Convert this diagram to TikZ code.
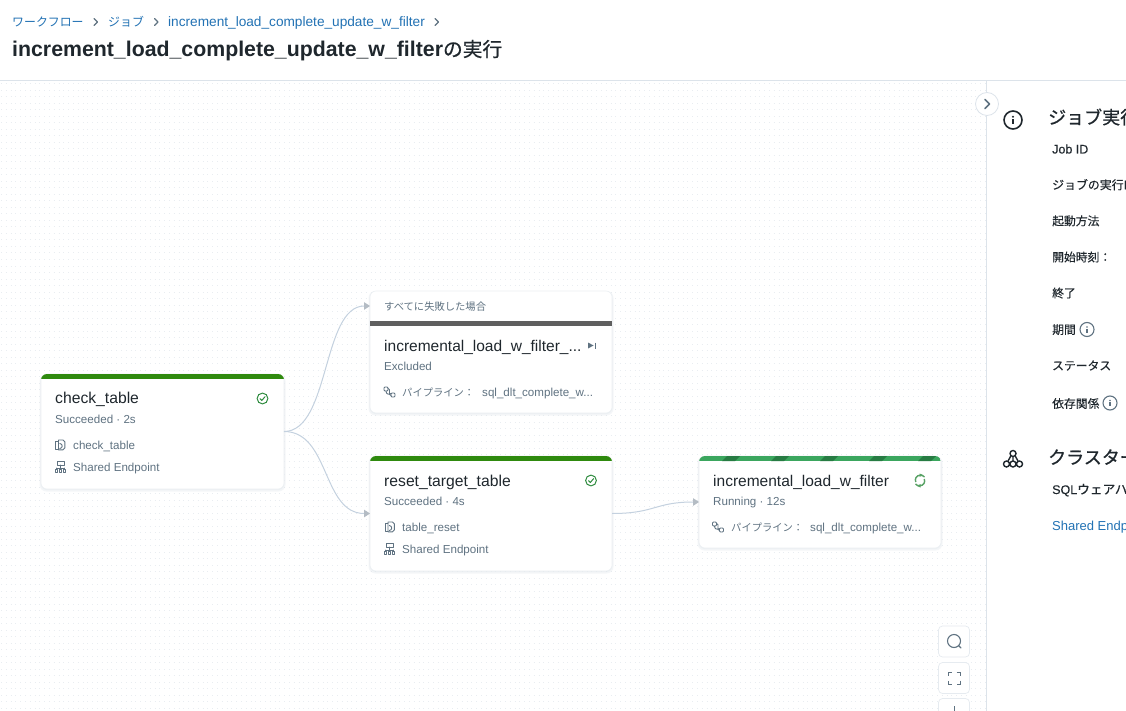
\documentclass[tikz,border=0pt]{standalone}
\usepackage{fontspec}
\setmainfont{Liberation Sans}
\newfontfamily\cjk{Noto Sans CJK JP}
\newfontfamily\cjkm[FakeBold=0.3]{Noto Sans CJK JP}
\newfontfamily\cjkh[FakeBold=0.7]{Noto Sans CJK JP}
\newfontfamily\latm[FakeBold=0.3]{Liberation Sans}
\newcommand{\jp}[2]{{\cjk\fontsize{#1}{15}\selectfont #2}}
\newcommand{\jm}[2]{{\cjkm\mdseries\fontsize{#1}{20}\selectfont #2}}
\newcommand{\jh}[2]{{\cjkh\mdseries\fontsize{#1}{20}\selectfont #2}}
\usetikzlibrary{arrows.meta,calc}
\definecolor{ink}{HTML}{1F272D}
\definecolor{subtle}{HTML}{5F7281}
\definecolor{linkc}{HTML}{2272B4}
\definecolor{edgec}{HTML}{C4D1DF}
\definecolor{tipc}{HTML}{B4BCC4}
\definecolor{okgreen}{HTML}{2E8B3E}
\definecolor{barok}{HTML}{2F8A0E}
\definecolor{barlight}{HTML}{3BA65E}
\definecolor{bardark}{HTML}{277C43}
\definecolor{bargray}{HTML}{5F5F5F}
\definecolor{rulec}{HTML}{DCE3EA}
\definecolor{dotc}{HTML}{E9EDF1}
\tikzset{
  card/.style={draw=rulec!55!white,line width=.6pt,fill=white,rounded corners=6pt,inner sep=0pt,outer sep=0pt},
  shadowc/.style={draw=none,fill=rulec,opacity=.3,rounded corners=7pt},
  flow/.style={draw=edgec,line width=1pt,-{Triangle[length=6pt,width=7.5pt,fill=tipc,color=tipc]}},
  title/.style={anchor=base west,inner sep=0pt,font=\fontsize{15.7}{18}\selectfont,text=ink},
  sub/.style={anchor=base west,inner sep=0pt,font=\fontsize{11.6}{13}\selectfont,text=subtle},
  crumb/.style={anchor=base west,inner sep=0pt,font=\fontsize{13.66}{15}\selectfont,text=linkc},
  lab/.style={anchor=base west,inner sep=0pt,font=\fontsize{12.5}{14}\selectfont,text=ink},
  head/.style={anchor=base west,inner sep=0pt,text=ink},
  ico/.style={draw=subtle,line width=.9pt,line cap=round,line join=round},
  chev/.style={draw=#1,line width=1.1pt,line cap=round,line join=round},
  ctrl/.style={draw=rulec!70!white,fill=white,line width=.7pt,rounded corners=4pt},
}
% icons, placed by their centre
\newcommand{\okicon}[2]{\begin{scope}[shift={(#1,#2)}]
  \draw[okgreen,line width=1pt] (0,0) circle[radius=5.4];
  \draw[okgreen,line width=1pt,line cap=round,line join=round] (-2.5,.2)--(-.7,2)--(2.6,-1.9);
\end{scope}}
\newcommand{\fileicon}[2]{\begin{scope}[shift={(#1,#2)}]
  \draw[ico] (-1.5,-5)--(3,-5)--(4.8,-3.3)--(4.8,3)--(3,4.8)--(-1.5,4.8)--cycle;
  \draw[ico] (-1.5,-3.5)--(-4.5,-3.5)--(-4.5,4.8)--(-1.5,4.8);
  \draw[ico] (-.2,3.6) .. controls (3,3) and (3,-1) .. (-.2,-1.5);
\end{scope}}
\newcommand{\epicon}[2]{\begin{scope}[shift={(#1,#2)}]
  \draw[ico] (-3.5,-5.2) rectangle (3.5,-2);
  \draw[ico] (0,-2)--(0,1) (-4,1)--(4,1) (-4,1)--(-4,2.5) (4,1)--(4,2.5);
  \draw[ico] (-5.4,2.5) rectangle (-2.8,5) (-1.3,2.5) rectangle (1.3,5) (2.8,2.5) rectangle (5.4,5);
\end{scope}}
\newcommand{\pipeicon}[2]{\begin{scope}[shift={(#1,#2)}]
  \draw[ico,rounded corners=1pt] (-5.5,-5) rectangle (-1.5,-1);
  \draw[ico,rounded corners=1pt] (1.5,1) rectangle (5.5,5);
  \draw[ico] (-1.5,-3.5) .. controls (2,-3.5) and (-2,3.5) .. (1.5,3.5);
  \draw[ico] (-3.5,-1) .. controls (-3.5,2) and (-1,3) .. (1.5,1.5);
\end{scope}}
\newcommand{\infoicon}[5]{\begin{scope}[shift={(#1,#2)}]
  \draw[#4,line width=#5pt] (0,0) circle[radius=#3];
  \fill[#4] (0,-.36*#3) circle[radius=.13*#3];
  \draw[#4,line width=#5pt] (0,-.08*#3)--(0,.48*#3);
\end{scope}}
\begin{document}
\begin{tikzpicture}[x=1pt,y=-1pt]
\useasboundingbox (0,0) rectangle (1126,711);
\fill[white] (0,0) rectangle (1126,711);
\begin{scope}
\clip (0,0) rectangle (1126,711);
% dotted canvas
\foreach \r in {0,...,96} {
  \draw[dotc,line width=1pt,dash pattern=on 1pt off 3.8pt] (1,84+6.5*\r)--(986,84+6.5*\r);
}
% page header
\node[crumb] (c1) at (12,27) {\jp{11.9}{ワークフロー}};
\node[crumb] (c2) at (108,27) {\jp{11.9}{ジョブ}};
\node[crumb] (c3) at (168,27) {increment\_load\_complete\_update\_w\_filter};
\draw[chev=subtle] (94,18.5)--(97.5,22)--(94,25.5);
\draw[chev=subtle] (154.5,18.5)--(158,22)--(154.5,25.5);
\draw[chev=subtle] (435,18.5)--(438.5,22)--(435,25.5);
\node[anchor=base west,inner sep=0pt,font=\fontsize{21.3}{24}\bfseries\selectfont,text=ink] (pagetitle) at (12,56.5) {increment\_load\_complete\_update\_w\_filter\jh{19.7}{の実行}};
\draw[rulec,line width=1pt] (0,80.5)--(1126,80.5);
% right panel
\fill[white] (987,81) rectangle (1126,711);
\draw[rulec,line width=1pt] (986.5,81)--(986.5,711);
\node[circle,draw=rulec,fill=white,line width=.8pt,minimum size=23pt,inner sep=0pt] (toggle) at (987,104) {};
\draw[chev=subtle,line width=1.5pt] (985,99.5)--(989.5,104)--(985,108.5);
\infoicon{1013}{120}{9}{ink}{1.6}
\node[head] (h1) at (1048,124) {\jh{18}{ジョブ実行}};
\node[lab] (l1) at (1052,153.5) {\latm Job ID};
\node[lab] (l2) at (1052,189.3) {\jm{11.9}{ジョブの実行ID}};
\node[lab] (l3) at (1052,225.3) {\jm{11.8}{起動方法}};
\node[lab] (l4) at (1052,261.5) {\jm{11.8}{開始時刻：}};
\node[lab] (l5) at (1052,297.5) {\jm{11.8}{終了}};
\node[lab] (l6) at (1052,334) {\jm{11.8}{期間}};
\infoicon{1087}{329.5}{7}{subtle}{1.1}
\node[lab] (l7) at (1052,370) {\jm{11.8}{ステータス}};
\node[lab] (l8) at (1052,408) {\jm{11.8}{依存関係}};
\infoicon{1110}{403}{7}{subtle}{1.1}
\begin{scope}[ink,line width=1.4pt]
  \draw (1013,453.5) circle[radius=3];
  \draw (1006.5,464) circle[radius=3] (1013,464) circle[radius=3] (1019.5,464) circle[radius=3];
  \draw (1013,456.5)--(1013,461) (1010.8,456)--(1008,461) (1015.2,456)--(1018,461);
\end{scope}
\node[head] (h2) at (1048,464) {\jh{18}{クラスター}};
\node[lab] (l9) at (1052,494) {\latm SQL\jm{12.7}{ウェアハウス}};
\node[anchor=base west,inner sep=0pt,font=\fontsize{13}{15}\selectfont,text=linkc] (l10) at (1052,530) {Shared Endpoint};
% canvas controls
\node[ctrl,minimum width=31pt,minimum height=31pt,inner sep=0pt] (z1) at (954,641.5) {};
\node[ctrl,minimum width=31pt,minimum height=31pt,inner sep=0pt] (z2) at (954,678) {};
\node[ctrl,minimum width=31pt,minimum height=31pt,inner sep=0pt] (z3) at (954,714) {};
\draw[subtle,line width=1.1pt,line cap=round] (954,641) circle[radius=6.5] (958.8,645.8)--(961,648);
\draw[subtle,line width=1pt] (948,675.5)--(948,672)--(951.5,672) (956.5,672)--(960,672)--(960,675.5) (960,680.5)--(960,684)--(956.5,684) (951.5,684)--(948,684)--(948,680.5);
\draw[subtle,line width=1pt] (954,706)--(954,711);
% cards
\foreach \a/\b/\c/\d in {41/374/284/489,370/291/612/413,370/456/612/571,699/456/941/548}{
  \fill[shadowc] (\a-1.5,\b) rectangle (\c+1.5,\d+2.5);
  \fill[shadowc] (\a-.5,\b+1) rectangle (\c+.5,\d+1.2);
}
\node[card,minimum width=243pt,minimum height=115pt] (check) at (162.5,431.5) {};
\node[card,minimum width=242pt,minimum height=122pt] (excl) at (491,352) {};
\node[card,minimum width=242pt,minimum height=115pt] (reset) at (491,513.5) {};
\node[card,minimum width=242pt,minimum height=92pt] (inc) at (820,502) {};
\coordinate (exclport) at (excl.north west |- 0,306);
% top bars
\begin{scope}
  \clip[rounded corners=6pt] (check.north west) rectangle ($(check.north east)+(0,20)$);
  \fill[barok] (check.north west) rectangle ($(check.north east)+(0,5)$);
\end{scope}
\begin{scope}
  \clip[rounded corners=6pt] (reset.north west) rectangle ($(reset.north east)+(0,20)$);
  \fill[barok] (reset.north west) rectangle ($(reset.north east)+(0,5)$);
\end{scope}
\begin{scope}
  \clip[rounded corners=6pt] (inc.north west) rectangle ($(inc.north east)+(0,20)$);
  \fill[barlight] (inc.north west) rectangle ($(inc.north east)+(0,5)$);
  \clip (inc.north west) rectangle ($(inc.north east)+(0,5)$);
  \foreach \k in {0,...,4}{
    \fill[bardark] (722+49*\k,461)--(735+49*\k,461)--(740+49*\k,456)--(727+49*\k,456)--cycle;
  }
\end{scope}
\fill[bargray] (excl.west |- 0,321) rectangle (excl.east |- 0,326);
% connectors
\draw[flow] (check.east) .. controls (330,431.5) and (322,306) .. (exclport);
\draw[flow] (check.east) .. controls (330,431.5) and (322,513.5) .. (reset.west);
\draw[flow] (reset.east) .. controls (655,513.5) and (655,502) .. (inc.west);
% check_table
\node[title] (t1) at (55,403.5) {check\_table};
\node[sub] (s1) at (55,423) {Succeeded · 2s};
\node[sub] (f1) at (73,449) {check\_table};
\node[sub] (e1) at (73,471) {Shared Endpoint};
\okicon{262.5}{398.5}
\fileicon{60}{445}
\epicon{60.5}{467}
% excluded
\node[sub,font=\fontsize{10.3}{12}\selectfont] (top) at (384,310) {\cjk すべてに失敗した場合};
\node[title,font=\fontsize{15.5}{18}\selectfont] (t2) at (384,351) {incremental\_load\_w\_filter\_...};
\node[sub] (s2) at (384,370) {Excluded};
\node[sub] (p2a) at (402,396) {\jp{10.3}{パイプライン：}};
\node[sub] (p2b) at (482,396) {sql\_dlt\_complete\_w...};
\fill[subtle] (588,342.5)--(593.5,345.5)--(588,348.5)--cycle;
\draw[subtle,line width=.8pt] (595,342.5)--(595,348.5);
\pipeicon{389.5}{392}
% reset_target_table
\node[title] (t3) at (384,486) {reset\_target\_table};
\node[sub] (s3) at (384,505) {Succeeded · 4s};
\node[sub] (f3) at (402,531) {table\_reset};
\node[sub] (e3) at (402,553) {Shared Endpoint};
\okicon{591}{480.5}
\fileicon{389.5}{527}
\epicon{389.5}{549}
% incremental_load_w_filter
\node[title,font=\fontsize{15.5}{18}\selectfont] (t4) at (713,486) {incremental\_load\_w\_filter};
\node[sub] (s4) at (713,505) {Running · 12s};
\node[sub] (p4a) at (731,531) {\jp{10.3}{パイプライン：}};
\node[sub] (p4b) at (810,531) {sql\_dlt\_complete\_w...};
\pipeicon{718}{527}
\begin{scope}[okgreen!80!white,line width=1.4pt]
  \draw (924.5,477) .. controls (922.5,474.5) and (918,474.5) .. (916,477.5) .. controls (915.2,479) and (915.2,480.5) .. (915.8,482);
  \draw (915.5,484) .. controls (917.5,486.5) and (922,486.5) .. (924,483.5) .. controls (924.8,482) and (924.8,480.5) .. (924.2,479);
  \fill (919.5,473.5)--(923,475)--(919.5,477)--cycle (920.5,484)--(917,486)--(920.5,487.5)--cycle;
\end{scope}
\end{scope}
\end{tikzpicture}
\end{document}
